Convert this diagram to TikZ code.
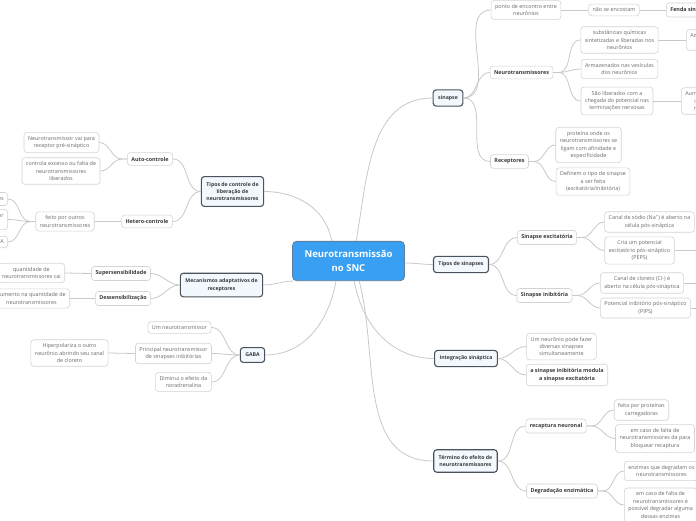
\documentclass[tikz,border=0pt]{standalone}
\usepackage{fontspec}
\setmainfont{Open Sans}
\usepackage{tikz}
\usetikzlibrary{positioning,calc}

\definecolor{rootblue}{HTML}{389FF2}
\definecolor{rootline}{HTML}{5B7F9E}
\definecolor{mainfill}{HTML}{F3F8FE}
\definecolor{mainline}{HTML}{4A525B}
\definecolor{boxline}{HTML}{D3D3D3}
\definecolor{leaftext}{HTML}{6A6A6A}
\definecolor{subtext}{HTML}{3A3A3A}
\definecolor{linkgray}{HTML}{C8C8C8}

\begin{document}
\begin{tikzpicture}[x=1pt,y=-1pt,
  root/.style={fill=rootblue,draw=rootline,line width=0.8pt,rounded corners=4pt,text=white,
    font=\fontsize{9.5}{14}\selectfont\bfseries,align=center,inner xsep=12pt,inner ysep=9pt},
  mainbox/.style={fill=mainfill,draw=mainline,line width=1.1pt,rounded corners=3pt,text=subtext,
    font=\fontsize{5.2}{7.4}\selectfont\bfseries,align=center,inner xsep=5pt,inner ysep=5.5pt},
  leaf/.style={fill=white,draw=boxline,line width=0.6pt,rounded corners=3pt,text=leaftext,
    font=\fontsize{5.4}{7.4}\selectfont,align=center,inner xsep=4pt,inner ysep=3.8pt},
  subbox/.style={leaf,text=subtext,font=\fontsize{5.4}{7.4}\selectfont\bfseries,inner ysep=4.3pt},
  link/.style={draw=linkgray,line width=0.8pt}]

\path[use as bounding box] (0,0) rectangle (696,520);
\clip (0,0) rectangle (696,520);

% central topic
\node[root] (root) at (348.5,261) {Neurotransmissão\\no SNC};

% sinapse
\node[mainbox] (sinapse) at (448,98) {sinapse};
\node[leaf] (ponto) at (526,10) {ponto de encontro entre\\neurônios};
\node[leaf] (encostam) at (614,10) {não se encostam};
\node[subbox,anchor=west] (fenda) at (666,10) {Fenda sináptica};
\node[subbox] (neurotr) at (521.5,72.5) {Neurotransmissores};
\node[leaf] (quimicas) at (619.5,40) {substâncias químicas\\sintetizadas e liberadas nos\\neurônios};
\node[leaf,anchor=west] (aminas) at (686,40) {Aminoácidos, aminas\\e peptídeos};
\node[leaf] (vesiculas) at (619.5,69) {Armazenados nas vesículas\\dos neurônios};
\node[leaf] (liberados) at (617,101) {São liberados com a\\chegada do potencial nas\\terminações nervosas};
\node[leaf,anchor=west] (calcio) at (681,101) {Aumento de cálcio\\intracelular\\no terminal};
\node[subbox] (receptores) at (509.5,161.5) {Receptores};
\node[leaf] (proteina) at (588.5,145) {proteína onde os\\neurotransmissores se\\ligam com afinidade e\\especificidade};
\node[leaf] (definem) at (593,181.5) {Definem o tipo de sinapse\\a ser feita\\(excitatória/inibitória)};

% tipos de sinapses
\node[mainbox] (tipos) at (461,264.5) {Tipos de sinapses};
\node[subbox] (excit) at (547,237.5) {Sinapse excitatória};
\node[leaf] (sodio) at (649.5,222) {Canal de sódio (Na\textsuperscript{+}) é aberto na\\célula pós-sináptica};
\node[leaf] (peps) at (639.5,250.5) {Cria um potencial\\excitatório pós-sináptico\\(PEPS)};
\node[subbox] (inib) at (544.5,295.5) {Sinapse inibitória};
\node[leaf] (cloreto) at (642,283) {Canal de cloreto (Cl-) é\\aberto na célula pós-sináptica};
\node[leaf] (pips) at (645.5,308) {Potencial inibitório pós-sináptico\\(PIPS)};
\coordinate (pepsend) at (720,250.5);
\coordinate (cloretoend) at (720,283);
\coordinate (pipsend) at (720,308);

% integracao
\node[mainbox] (integr) at (466,358.5) {Integração sináptica};
\node[leaf] (diversas) at (561.5,346.5) {Um neurônio pode fazer\\diversas sinapses\\simultaneamente};
\node[subbox] (modula) at (567,375) {a sinapse inibitória modula\\a sinapse excitatória};

% termino
\node[mainbox] (termino) at (465.5,461) {Término do efeito de\\neurotransmissores};
\node[subbox] (recaptura) at (556,426) {recaptura neuronal};
\node[leaf] (carreg) at (641.5,410) {feita por proteínas\\carregadoras};
\node[leaf] (bloquear) at (655,438.5) {em caso de falta de\\neurotransmissores da para\\bloquear recaptura};
\node[subbox] (degrad) at (562,491) {Degradação enzimática};
\node[leaf,anchor=west] (enzimas) at (624,471) {enzimas que degradam os\\neurotransmissores};
\node[leaf,anchor=west] (alguma) at (624,505) {em caso de falta de\\neurotransmissores é\\possível degradar alguma\\dessas enzimas};

% controle
\node[mainbox] (controle) at (232.5,191.5) {Tipos de controle de\\liberação de\\neurotransmissores};
\node[subbox] (auto) at (150,159) {Auto-controle};
\node[leaf] (presin) at (61.5,142.5) {Neurotransmissor vai para\\receptor pré-sináptico};
\node[leaf] (excesso) at (61,171) {controla excesso ou falta de\\neurotransmissores\\liberados};
\node[subbox] (hetero) at (147,221.5) {Hetero-controle};
\node[leaf] (outros) at (65,221.5) {feito por outros\\neurotransmissores};
\node[leaf,anchor=east] (opioides) at (8,199) {Peptídeos opioides};
\node[leaf,anchor=east] (heteror) at (8,219.5) {Atua em outro receptor\\pré-sináptico};
\node[leaf,anchor=east] (gabaleaf) at (8,242) {GABA};

% mecanismos
\node[mainbox] (mecan) at (221.5,285) {Mecanismos adaptativos de\\receptores};
\node[subbox] (super) at (121,273.5) {Supersensibilidade};
\node[leaf,anchor=east] (cai) at (65,273) {quantidade de\\neurotransmissores cai};
\node[subbox] (dessens) at (123,298.5) {Dessensibilização};
\node[leaf,anchor=east] (aumento) at (70,298.5) {aumento na quantidade de\\neurotransmissores};

% GABA
\node[mainbox] (gaba) at (252.5,355) {GABA};
\node[leaf] (umneuro) at (179.5,327.5) {Um neurotransmissor};
\node[leaf] (principal) at (173.5,353.5) {Principal neurotransmissor\\de sinapses inibitórias};
\node[leaf] (hiper) at (69.5,353) {Hiperpolariza o outro\\neurônio abrindo seu canal\\de cloreto};
\node[leaf] (noradr) at (183.5,382) {Diminui o efeito da\\noradrenalina};

% connectors from the root
\draw[link] (root.69) to[out=80,in=180] (sinapse.west);
\draw[link] (root.-2) to[out=0,in=180] (tipos.west);
\draw[link] (root.-74) to[out=-80,in=180] (integr.west);
\draw[link] (root.-62) to[out=-75,in=180] (termino.west);
\draw[link] (root.130) to[out=100,in=0] (controle.east);
\draw[link] (root.200) to[out=180,in=0] (mecan.east);
\draw[link] (root.238) to[out=-100,in=0] (gaba.east);

% right side
\draw[link] (sinapse.east) to[out=0,in=180] (ponto.west);
\draw[link] (sinapse.east) to[out=0,in=180] (neurotr.west);
\draw[link] (sinapse.east) to[out=0,in=180] (receptores.west);
\draw[link] (ponto.east) -- (encostam.west);
\draw[link] (encostam.east) -- (fenda.west);
\draw[link] (neurotr.east) -- ++(5,0) to[out=0,in=180] (quimicas.west);
\draw[link] (neurotr.east) -- ++(5,0) to[out=0,in=180] (vesiculas.west);
\draw[link] (neurotr.east) -- ++(5,0) to[out=0,in=180] (liberados.west);
\draw[link] (quimicas.east) -- (aminas.west);
\draw[link] (liberados.east) -- (calcio.west);
\draw[link] (receptores.east) -- ++(5,0) to[out=0,in=180] (proteina.west);
\draw[link] (receptores.east) -- ++(5,0) to[out=0,in=180] (definem.west);

\draw[link] (tipos.east) to[out=0,in=180] (excit.west);
\draw[link] (tipos.east) to[out=0,in=180] (inib.west);
\draw[link] (excit.east) -- ++(5,0) to[out=0,in=180] (sodio.west);
\draw[link] (excit.east) -- ++(5,0) to[out=0,in=180] (peps.west);
\draw[link] (inib.east) -- ++(5,0) to[out=0,in=180] (cloreto.west);
\draw[link] (inib.east) -- ++(5,0) to[out=0,in=180] (pips.west);
\draw[link] (peps.east) -- (pepsend);
\draw[link] (cloreto.east) -- (cloretoend);
\draw[link] (pips.east) -- (pipsend);

\draw[link] (integr.east) to[out=0,in=180] (diversas.west);
\draw[link] (integr.east) to[out=0,in=180] (modula.west);

\draw[link] (termino.east) to[out=0,in=180] (recaptura.west);
\draw[link] (termino.east) to[out=0,in=180] (degrad.west);
\draw[link] (recaptura.east) -- ++(5,0) to[out=0,in=180] (carreg.west);
\draw[link] (recaptura.east) -- ++(5,0) to[out=0,in=180] (bloquear.west);
\draw[link] (degrad.east) -- ++(5,0) to[out=0,in=180] (enzimas.west);
\draw[link] (degrad.east) -- ++(5,0) to[out=0,in=180] (alguma.west);

% left side
\draw[link] (controle.west) to[out=180,in=0] (auto.east);
\draw[link] (controle.west) to[out=180,in=0] (hetero.east);
\draw[link] (auto.west) -- ++(-5,0) to[out=180,in=0] (presin.east);
\draw[link] (auto.west) -- ++(-5,0) to[out=180,in=0] (excesso.east);
\draw[link] (hetero.west) -- (outros.east);
\draw[link] (outros.west) -- ++(-5,0) to[out=180,in=0] (opioides.east);
\draw[link] (outros.west) -- ++(-5,0) to[out=180,in=0] (heteror.east);
\draw[link] (outros.west) -- ++(-5,0) to[out=180,in=0] (gabaleaf.east);

\draw[link] (mecan.west) to[out=180,in=0] (super.east);
\draw[link] (mecan.west) to[out=180,in=0] (dessens.east);
\draw[link] (super.west) -- (cai.east);
\draw[link] (dessens.west) -- (aumento.east);

\draw[link] (gaba.west) to[out=180,in=0] (umneuro.east);
\draw[link] (gaba.west) to[out=180,in=0] (principal.east);
\draw[link] (gaba.west) to[out=180,in=0] (noradr.east);
\draw[link] (principal.west) -- (hiper.east);

\end{tikzpicture}
\end{document}
